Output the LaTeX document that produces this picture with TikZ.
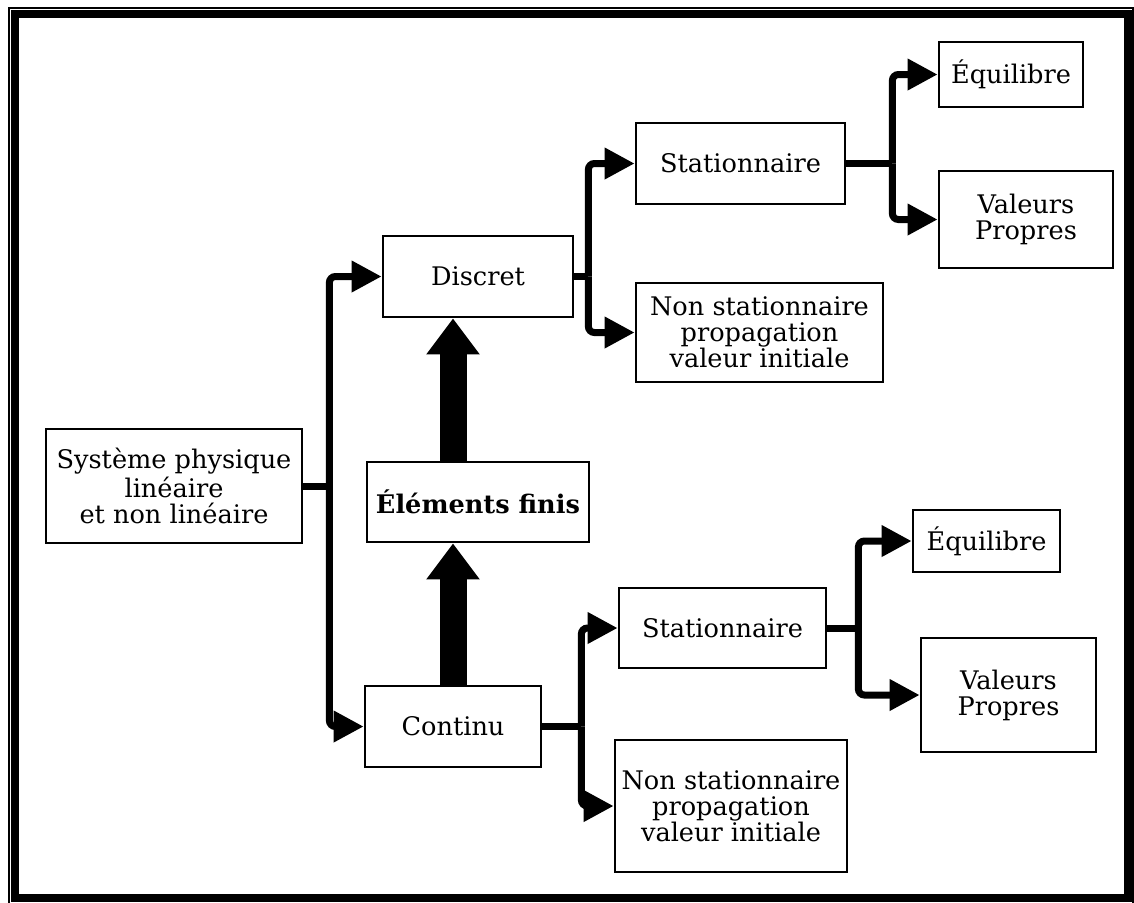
\documentclass[tikz,border=0pt]{standalone}
\usepackage{fontspec}
\setmainfont{DejaVu Serif}
\usepackage{tikz}
\usetikzlibrary{arrows.meta, positioning}

\begin{document}
\begin{tikzpicture}[x=0.5pt, y=-0.5pt,
  box/.style={draw, line width=1.4pt, align=center, inner sep=2pt, font=\fontsize{12.8}{13}\selectfont},
  link/.style={line width=3.5pt, rounded corners=3pt},
  feed/.style={link, -{Triangle[length=15pt, width=15pt]}},
  bigarrow/.style={line width=13.5pt, -{Triangle[length=18pt, width=25.5pt]}}]
  \useasboundingbox (0,0) rectangle (1134,902);

  % Frame
  \draw[line width=4pt] (15,14) rectangle (1128,898);
  \draw[line width=0.8pt] (9,8) rectangle (1133,910);

  % Model and methods
  \node[box, minimum width=128pt, minimum height=57pt] (sys) at (174,486) {Système physique\\linéaire\\et non linéaire};
  \node[box, minimum width=95pt, minimum height=40.5pt] (disc) at (478,276.5) {Discret};
  \node[box, minimum width=111pt, minimum height=40pt, font=\fontsize{12.8}{13}\selectfont\bfseries] (fem) at (478,502) {Éléments finis};
  \node[box, minimum width=88pt, minimum height=40.5pt] (cont) at (453,726.5) {Continu};

  % Discrete branch
  \node[box, minimum width=104.5pt, minimum height=40.5pt] (st1) at (740.5,163.5) {Stationnaire};
  \node[box, minimum width=123.5pt, minimum height=49.5pt] (ns1) at (759.5,332.5) {Non stationnaire\\propagation\\valeur initiale};
  \node[box, minimum width=72pt, minimum height=32.5pt] (eq1) at (1011,74.5) {Équilibre};
  \node[box, minimum width=87pt, minimum height=48.5pt] (vp1) at (1026,219.5) {Valeurs\\Propres};

  % Continuous branch
  \node[box, minimum width=103.5pt, minimum height=40pt] (st2) at (722.5,628) {Stationnaire};
  \node[box, minimum width=116pt, minimum height=66pt] (ns2) at (731,806) {Non stationnaire\\propagation\\valeur initiale};
  \node[box, minimum width=73.5pt, minimum height=31pt] (eq2) at (986.5,541) {Équilibre};
  \node[box, minimum width=87.5pt, minimum height=57pt] (vp2) at (1008.5,695) {Valeurs\\Propres};

  % Connectors
  \draw[link] (sys.east) -- ++(26,0) coordinate (busL);
  \draw[feed] (busL) |- (disc.west);
  \draw[feed] (busL) |- (cont.west);

  \draw[link] (disc.east) -- ++(14,0) coordinate (busD);
  \draw[feed] (busD) |- (st1.west);
  \draw[feed] (busD) |- (ns1.west);

  \draw[link] (st1.east) -- ++(46,0) coordinate (busS1);
  \draw[feed] (busS1) |- (eq1.west);
  \draw[feed] (busS1) |- (vp1.west);

  \draw[link] (cont.east) -- ++(39,0) coordinate (busC);
  \draw[feed] (busC) |- (st2.west);
  \draw[feed] (busC) |- (ns2.west);

  \draw[link] (st2.east) -- ++(31,0) coordinate (busS2);
  \draw[feed] (busS2) |- (eq2.west);
  \draw[feed] (busS2) |- (vp2.west);

  % Finite elements
  \draw[bigarrow] (cont.north) -- (fem.south -| cont.north);
  \draw[bigarrow] (fem.north -| cont.north) -- (disc.south -| cont.north);
\end{tikzpicture}
\end{document}
